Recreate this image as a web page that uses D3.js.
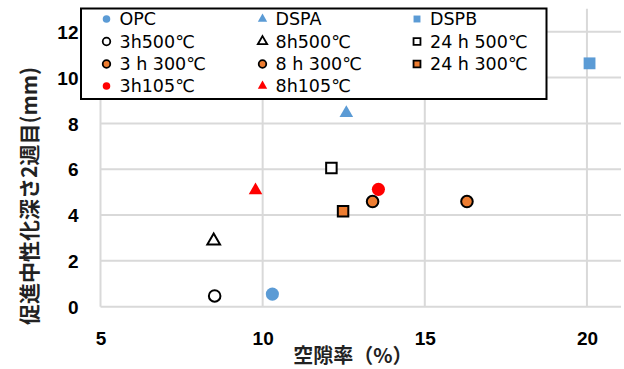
<!DOCTYPE html>
<html><head><meta charset="utf-8">
<script src="https://cdn.jsdelivr.net/npm/d3@7/dist/d3.min.js"></script>
<style>body{margin:0;background:#fff}svg{display:block}</style>
</head><body>
<svg id="c" width="624" height="369"></svg>
<script>
const seriesNames = ["OPC","DSPA","DSPB","3h500℃","8h500℃","24 h 500℃","3 h 300℃","8 h 300℃","24 h 300℃","3h105℃","8h105℃"];
const seriesX = [[10.3],[12.58],[20.08],[8.52],[8.49],[12.12],[13.39,16.3],[],[12.48],[13.57],[9.78]];
const seriesY = [[0.55],[8.45],[10.62],[0.47],[2.87],[6.05],[4.59,4.59],[],[4.17],[5.12],[5.08]];
const seriesShape = ["circle","triangle","square","circle","triangle","square","circle","circle","square","circle","triangle"];
const seriesFill = ["#5B9BD5","#5B9BD5","#5B9BD5","#ffffff","#ffffff","#ffffff","#ED7D31","#ED7D31","#ED7D31","#FF0000","#FF0000"];
const seriesStroke = ["none","none","none","#000","#000","#000","#000","#000","#000","none","none"];
const xTicks = [5,10,15,20];
const yTicks = [0,2,4,6,8,10,12];

const svg = d3.select("#c");
const x = d3.scaleLinear().domain([5,21.05]).range([100.5,621]);
const y = d3.scaleLinear().domain([0,13]).range([306.7,8.8]);

// gridlines
svg.append("g").selectAll("line").data(xTicks).join("line")
  .attr("x1",d=>x(d)).attr("x2",d=>x(d)).attr("y1",y(0)).attr("y2",y(13))
  .attr("stroke","#d9d9d9").attr("stroke-width",2);
svg.append("g").selectAll("line").data(yTicks).join("line")
  .attr("x1",x(5)).attr("x2",x(21.05)).attr("y1",d=>y(d)).attr("y2",d=>y(d))
  .attr("stroke","#d9d9d9").attr("stroke-width",2);

// axes tick labels
const xAxis = d3.axisBottom(x).tickValues(xTicks).tickSize(0).tickPadding(0);
const gx = svg.append("g").attr("transform",`translate(0,${y(0)})`).call(xAxis);
gx.select(".domain").remove();
gx.selectAll("text").attr("dy",0).attr("y",38.5).attr("font-size",19).attr("font-weight","bold")
  .attr("font-family","'Liberation Sans',Arial,sans-serif").attr("fill","#000");
const yAxis = d3.axisLeft(y).tickValues(yTicks).tickSize(0).tickPadding(0);
const gy = svg.append("g").attr("transform",`translate(${x(5)},0)`).call(yAxis);
gy.select(".domain").remove();
gy.selectAll("text").attr("x",-22).attr("dy","0.35em").attr("font-size",19).attr("font-weight","bold")
  .attr("font-family","'Liberation Sans',Arial,sans-serif").attr("fill","#000");

function sym(shape, size){
  const t = shape==="circle"?d3.symbolCircle:shape==="triangle"?d3.symbolTriangle:d3.symbolSquare;
  return d3.symbol().type(t).size(size)();
}
function sizeFor(i, legend){
  const s = seriesShape[i];
  if(legend) return s==="triangle"?38:s==="square"?48:45;
  if(seriesStroke[i]==="none") return s==="triangle"?80:s==="square"?140:135;
  return s==="triangle"?70:s==="square"?110:105;
}

// points
seriesNames.forEach((n,i)=>{
  const pts = seriesX[i].map((v,j)=>[v,seriesY[i][j]]);
  svg.append("g").selectAll("path").data(pts).join("path")
    .attr("d",sym(seriesShape[i],sizeFor(i,false)))
    .attr("transform",d=>`translate(${x(d[0])},${y(d[1])})`)
    .attr("fill",seriesFill[i]).attr("stroke",seriesStroke[i]).attr("stroke-width",2);
});

// legend
const lg = svg.append("g");
lg.append("rect").attr("x",81).attr("y",8.5).attr("width",465.5).attr("height",90.5)
  .attr("fill","#fff").attr("stroke","#000").attr("stroke-width",2);
const colX = [106.5,262.5,417];
const rowY = [19,41.5,64,86];
seriesNames.forEach((n,i)=>{
  const c = i%3, r = Math.floor(i/3);
  const g = lg.append("g").attr("transform",`translate(${colX[c]},${rowY[r]})`);
  g.append("path").attr("d",sym(seriesShape[i],sizeFor(i,true)))
    .attr("fill",seriesFill[i]).attr("stroke",seriesStroke[i]).attr("stroke-width",1.8);
  g.append("text").attr("x",13).attr("dy","0.36em").attr("font-size",17.5)
    .attr("font-family","'DejaVu Sans',sans-serif").attr("fill","#000").text(n);
});

// titles
svg.append("text").attr("x",353).attr("y",363).attr("text-anchor","middle")
  .attr("font-size",20).attr("font-weight","bold")
  .attr("font-family","'Noto Sans CJK JP',sans-serif").attr("fill","#222").text("空隙率（%）");
svg.append("text").attr("transform","translate(37,196) rotate(-90)").attr("text-anchor","middle")
  .attr("font-size",21).attr("font-weight","bold")
  .attr("font-family","'Noto Sans CJK JP',sans-serif").attr("fill","#222").text("促進中性化深さ2週目(mm)");
</script>
</body></html>
